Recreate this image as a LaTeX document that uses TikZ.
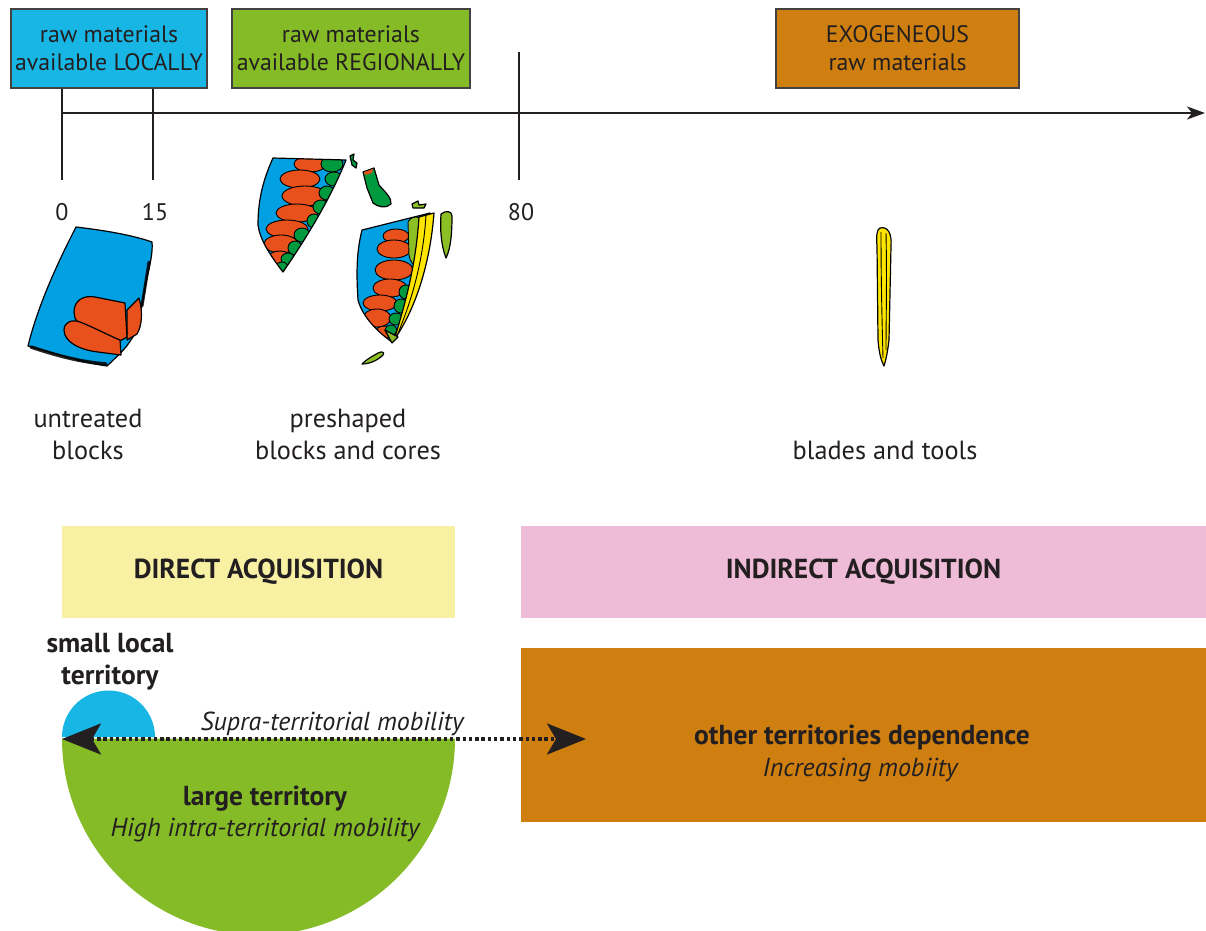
\documentclass[tikz,border=0pt]{standalone}
\usepackage{fontspec}
\setmainfont{PT Sans}
\usetikzlibrary{arrows.meta}
\definecolor{boxcyan}{HTML}{17B6E5}
\definecolor{boxgreen}{HTML}{84BB26}
\definecolor{boxorange}{HTML}{CF7F0F}
\definecolor{bandyellow}{HTML}{F8F1A4}
\definecolor{bandpink}{HTML}{EFBCD7}
\definecolor{artblue}{HTML}{00A0E3}
\definecolor{artorange}{HTML}{E8501C}
\definecolor{artgreen}{HTML}{009A3E}
\definecolor{artyellow}{HTML}{FFE600}
\definecolor{artlgreen}{HTML}{8CBF26}
\definecolor{txt}{HTML}{231F20}
\tikzset{
  topbox/.style={draw=txt!85, line width=1.8pt, minimum height=79pt, align=center, inner sep=0pt,
    font=\fontsize{23.8}{28}\selectfont, text=txt},
  band/.style={minimum height=92pt, inner sep=0pt, font=\fontsize{27.5}{30}\selectfont\bfseries, text=txt},
  ticklbl/.style={font=\fontsize{24}{26}\selectfont, text=txt},
  caption/.style={align=center, font=\fontsize{26.3}{32}\selectfont, text=txt},
  boldlbl/.style={align=center, font=\fontsize{27.5}{32}\selectfont\bfseries, text=txt},
  itlbl/.style={align=center, font=\fontsize{26}{30}\selectfont\itshape, text=txt},
  axisline/.style={line width=1.8pt, draw=txt},
  art/.style={draw=black, line width=1.2pt, line join=round},
  flakeline/.style={draw=black, line width=0.9pt},
  bighead/.tip={Stealth[length=39pt,width=31pt,inset=9pt]},
}
\begin{document}
\begin{tikzpicture}[x=1pt,y=-1pt]
\useasboundingbox (0,0) rectangle (1206,930);
\fill[white] (0,0) rectangle (1206,930);

% top boxes
\node[topbox, fill=boxcyan, minimum width=196pt] (loc) at (109,48.5) {raw materials\\available LOCALLY};
\node[topbox, fill=boxgreen, minimum width=238pt] (reg) at (351,48.5) {raw materials\\available REGIONALLY};
\node[topbox, fill=boxorange, minimum width=243pt] (exo) at (897.5,48.5) {EXOGENEOUS\\raw materials};

% axis
\coordinate (a0) at (62,113);
\coordinate (aend) at (1205,113);
\draw[axisline, -{Stealth[length=18pt,width=13pt,inset=5pt]}] (a0) -- (aend);
\coordinate (t0b) at (62,180);
\coordinate (t15b) at (153,180);
\coordinate (t80t) at (519,52);
\coordinate (t80b) at (519,180);
\draw[axisline] (loc.south -| t0b) -- (t0b);
\draw[axisline] (loc.south -| t15b) -- (t15b);
\draw[axisline] (t80t) -- (t80b);
\node[ticklbl] (l0) at (62,212) {0};
\node[ticklbl] (l15) at (155,212) {15};
\node[ticklbl] (l80) at (521,212) {80};

% ---------- untreated block ----------
\draw[art, fill=artblue] (76,227) .. controls (110,231) and (135,236) .. (152,242)
  .. controls (153,252) and (150,265) .. (147,278) -- (142,305) -- (136,332)
  .. controls (126,348) .. (107,366) .. controls (80,362) and (50,352) .. (28,346)
  .. controls (38,305) and (58,262) .. (76,227) -- cycle;
\draw[black, line width=3.5pt, opacity=0.85, line cap=round] (31,347) .. controls (55,355) and (80,362) .. (106,364);
\draw[black, line width=3pt, opacity=0.85, line cap=round] (149,262) -- (142,306);
\draw[art, fill=artorange] (127,310) -- (139,298) .. controls (143,312) and (142,326) .. (137,334) -- (127,340) -- cycle;
\draw[art, fill=artorange] (74,312) .. controls (74,300) and (84,295) .. (95,297) -- (125,303) -- (127,337) -- (118,342) .. controls (100,336) and (85,328) .. (78,322) .. controls (75,319) .. (74,312) -- cycle;
\draw[art, fill=artorange] (64,330) .. controls (64,322) and (72,319) .. (80,322) .. controls (95,328) and (110,336) .. (120,340) -- (121,355) -- (98,352) .. controls (80,350) and (64,342) .. (64,330) -- cycle;

% ---------- preshaped core 1 ----------
\def\coreA{(273,158) -- (346,160) .. controls (330,200) and (305,240) .. (283,272) .. controls (270,255) and (260,240) .. (258,225) .. controls (258,200) and (263,180) .. (273,158) -- cycle}
\fill[artblue] \coreA;
\begin{scope}
\clip \coreA;
\foreach \cx/\cy/\rx/\ry in {310/164/16/8, 300/179/20/9, 305/196/23/10, 297/213/21/9, 287/229/21/9, 281/244/17/9, 280/258/12/7}
  \draw[flakeline, fill=artorange] (\cx,\cy) ellipse[x radius=\rx, y radius=\ry];
\foreach \cx/\cy/\rx/\ry in {332/164/11/8, 334/179/9/7, 327/193/8/7, 321/207/8/7, 314/221/7/7, 302/235/8/7, 295/248/7/7, 288/259/7/6, 282/267/6/5}
  \draw[flakeline, fill=artgreen] (\cx,\cy) ellipse[x radius=\rx, y radius=\ry];
\end{scope}
\draw[art] \coreA;

% ---------- preshaped core 2 ----------
\def\coreB{(362,230) -- (430,213) .. controls (425,260) and (410,305) .. (392,342) .. controls (375,330) and (362,315) .. (358,300) .. controls (356,270) and (357,250) .. (362,230) -- cycle}
\fill[artblue] \coreB;
\begin{scope}
\clip \coreB;
\foreach \cx/\cy/\rx/\ry in {396/236/13/7, 394/249/17/9, 394/270/19/10, 390/288/17/9, 380/303/17/8, 377/318/14/9, 385/332/10/6}
  \draw[flakeline, fill=artorange] (\cx,\cy) ellipse[x radius=\rx, y radius=\ry];
\foreach \cx/\cy/\rx/\ry in {406/292/7/7, 401/306/7/7, 396/319/7/6, 391/330/6/5}
  \draw[flakeline, fill=artgreen] (\cx,\cy) ellipse[x radius=\rx, y radius=\ry];
\draw[flakeline, fill=artlgreen] (408,222) .. controls (412,215) and (420,215) .. (422,222) -- (418,262) .. controls (414,268) and (410,262) .. (409,255) -- cycle;
\end{scope}
\draw[art] \coreB;
% yellow blades
\draw[art, fill=artyellow] (419,217) -- (434,213) .. controls (430,265) and (415,310) .. (394,340) .. controls (405,305) and (416,265) .. (419,217) -- cycle;
\draw[flakeline] (426,215) .. controls (423,265) and (410,305) .. (396,338);
\draw[art, fill=artlgreen] (385,330) -- (398,337) -- (392,343) -- cycle;

% flakes
\draw[art, fill=artgreen] (363,172) -- (374,168) -- (379,185) .. controls (385,192) and (392,198) .. (391,204) .. controls (386,209) and (378,207) .. (373,203) -- (367,188) -- cycle;
\fill[artorange] (364,172) -- (373,169) -- (372,173) -- (365,175) -- cycle;
\draw[art, fill=artgreen] (350,156) -- (354,154) -- (353,160) -- (357,163) -- (356,168) -- (352,165) -- cycle;
\draw[art, fill=artlgreen] (412,204) -- (418,201) -- (419,205) -- (426,204) -- (424,208) -- (413,208) -- cycle;
\draw[art, fill=artlgreen] (441,214) .. controls (446,210) and (452,211) .. (452,216) .. controls (452,232) and (451,248) .. (446,258) .. controls (441,245) and (440,230) .. (441,214) -- cycle;
\draw[art, fill=artlgreen] (362,364) .. controls (368,358) and (375,355) .. (378,353) .. controls (382,351) and (385,352) .. (383,355) .. controls (378,360) and (370,364) .. (362,364) -- cycle;

% ---------- blade ----------
\draw[art, fill=artyellow] (880,228) .. controls (877,229) and (876,236) .. (877,246) -- (878,340)
  .. controls (879,353) and (881,360) .. (884,366) .. controls (887,356) and (888,348) .. (889,340)
  -- (891,246) .. controls (892,234) and (888,226) .. (880,228) -- cycle;
\draw[flakeline] (881,232) .. controls (881,280) and (882,320) .. (883,358);
\draw[flakeline] (886,233) .. controls (887,280) and (886,320) .. (886,350);

% captions
\node[caption] (cap1) at (88,434) {untreated\\blocks};
\node[caption] (cap2) at (348,434) {preshaped\\blocks and cores};
\node[caption] (cap3) at (885,450) {blades and tools};

% bands
\node[band, fill=bandyellow, minimum width=393pt] (direct) at (258.5,572) {DIRECT ACQUISITION};
\node[band, fill=bandpink, minimum width=685pt] (indirect) at (863.5,572) {INDIRECT ACQUISITION};

% bottom right orange
\node[fill=boxorange, minimum width=685pt, minimum height=174pt, inner sep=0pt] (other) at (863.5,735) {};
\node[boldlbl, anchor=base] (otherlbl) at (862,744) {other territories dependence};
\node[itlbl, anchor=base] (incr) at (860,776) {Increasing mobiity};

% territories
\fill[boxgreen] (62,738.5) arc[start angle=180, end angle=0, radius=196.5] -- cycle;
\fill[boxcyan] (62,737) arc[start angle=180, end angle=360, radius=46.5] -- cycle;
\node[boldlbl] (small) at (110,662) {small local\\territory};
\node[itlbl, anchor=base] (supra) at (332,730) {Supra-territorial mobility};
\node[boldlbl, anchor=base] (large) at (265,805) {large territory};
\node[itlbl, anchor=base] (high) at (265,836) {High intra-territorial mobility};

% dotted arrow
\coordinate (dl) at (62,739);
\coordinate (dr) at (586,739);
\draw[txt, line width=3.6pt, dash pattern=on 3.4pt off 2.9pt, {bighead}-{bighead}] (dl) -- (dr);
\end{tikzpicture}
\end{document}
